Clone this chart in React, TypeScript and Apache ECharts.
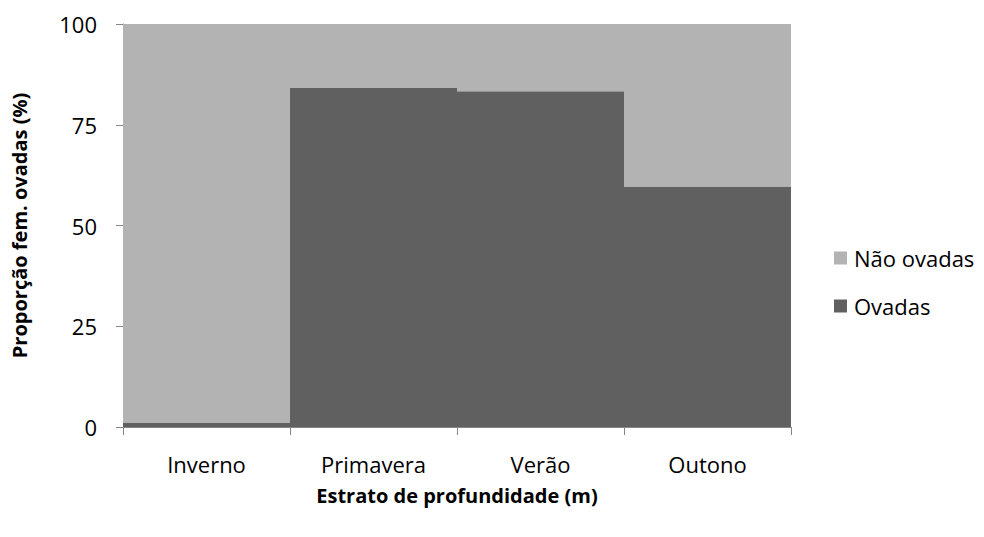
import React, { useEffect, useRef } from "react";
import * as echarts from "echarts";

const categories = ["Inverno", "Primavera", "Verão", "Outono"];
const ovadas = [1, 84.1, 83.3, 59.7];
const naoOvadas = [99, 15.9, 16.7, 40.3];
const yTicks = [0, 25, 50, 75, 100];

const FONT = "'Open Sans', sans-serif";

export default function App() {
  const ref = useRef<HTMLDivElement>(null);
  useEffect(() => {
    if (!ref.current) return;
    const chart = echarts.init(ref.current, null, { renderer: "svg" });
    chart.setOption({
      animation: false,
      textStyle: { fontFamily: FONT },
      grid: { left: 123, right: 193, top: 24, bottom: 110, containLabel: false },
      legend: {
        orient: "vertical",
        left: 829,
        top: 242,
        padding: 5,
        itemWidth: 13,
        itemHeight: 13,
        itemGap: 26,
        icon: "rect",
        data: ["Não ovadas", "Ovadas"],
        textStyle: { fontFamily: FONT, fontSize: 22, lineHeight: 22, color: "#000", padding: [0, 0, 0, 2] },
      },
      xAxis: {
        type: "category",
        data: categories,
        name: "Estrato de profundidade (m)",
        nameLocation: "middle",
        nameGap: 58,
        nameTextStyle: { fontFamily: FONT, fontSize: 20, fontWeight: "bold", color: "#000" },
        axisLine: { lineStyle: { color: "#868686", width: 1 } },
        axisTick: { show: true, length: 8, lineStyle: { color: "#868686" } },
        axisLabel: { fontFamily: FONT, fontSize: 22, color: "#000", margin: 26 },
      },
      yAxis: {
        type: "value",
        min: 0,
        max: 100,
        interval: 25,
        name: "Proporção fem. ovadas (%)",
        nameLocation: "middle",
        nameGap: 94,
        nameTextStyle: { fontFamily: FONT, fontSize: 20, fontWeight: "bold", color: "#000" },
        axisLine: { show: true, lineStyle: { color: "#868686", width: 1 } },
        axisTick: { show: true, length: 7, lineStyle: { color: "#868686" } },
        axisLabel: {
          fontFamily: FONT,
          fontSize: 22,
          color: "#000",
          margin: 26,
          formatter: (v: number) => (yTicks.includes(v) ? String(v) : ""),
        },
        splitLine: { show: false },
      },
      series: [
        {
          name: "Ovadas",
          type: "bar",
          stack: "total",
          data: ovadas,
          barCategoryGap: "0%",
          itemStyle: { color: "#606060" },
        },
        {
          name: "Não ovadas",
          type: "bar",
          stack: "total",
          data: naoOvadas,
          barCategoryGap: "0%",
          itemStyle: { color: "#b3b3b3" },
        },
      ],
    });
    return () => chart.dispose();
  }, []);
  return <div ref={ref} style={{ width: 984, height: 537, position: "absolute", left: 0, top: 0 }} />;
}
